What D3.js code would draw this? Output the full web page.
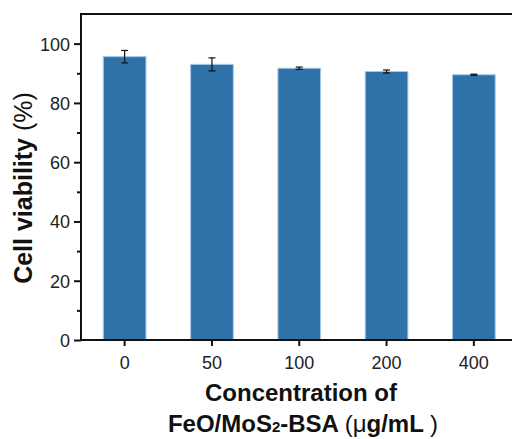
<!DOCTYPE html>
<html>
<head>
<meta charset="utf-8">
<script src="https://cdn.jsdelivr.net/npm/d3@7"></script>
<style>
  body { margin: 0; background: #fff; }
  text { font-family: "Liberation Sans", Arial, sans-serif; fill: #111; }
</style>
</head>
<body>
<svg id="canvas" width="512" height="439"></svg>
<script>
// data
var concentrations = ['0', '50', '100', '200', '400'];
var viability = [95.6, 93.0, 91.7, 90.6, 89.5];
var viability_err = [2.1, 2.2, 0.4, 0.5, 0.2];
var y_ticks = [0, 20, 40, 60, 80, 100];
var y_minor = [10, 30, 50, 70, 90];

var left = 81, top_ = 14, bottom = 340, right = 517.5;

var svg = d3.select('#canvas');

var xScale = d3.scaleBand().domain(concentrations).range([left, right]).paddingInner(0.5).paddingOuter(0.25);
var yScale = d3.scaleLinear().domain([0, 110]).range([bottom, top_]);

// ************************************************************************************************** //
// Bars

svg.append('g').selectAll('rect').data(concentrations).enter().append('rect')
  .attr('x', (d) => xScale(d) + 0.5)
  .attr('width', xScale.bandwidth() - 1)
  .attr('y', (d, i) => yScale(viability[i]))
  .attr('height', (d, i) => bottom - yScale(viability[i]))
  .style('fill', '#2f72aa')
  .style('stroke', '#a3c7e8')
  .style('stroke-width', 1);

// error bars
var eb = svg.append('g').style('stroke', '#111').style('stroke-width', 1.2);
concentrations.forEach((d, i) => {
  var cx = xScale(d) + xScale.bandwidth() / 2;
  var y1 = yScale(viability[i] + viability_err[i]);
  var y2 = yScale(viability[i] - viability_err[i]);
  eb.append('line').attr('x1', cx).attr('x2', cx).attr('y1', y1).attr('y2', y2);
  eb.append('line').attr('x1', cx - 3.5).attr('x2', cx + 3.5).attr('y1', y1).attr('y2', y1);
  eb.append('line').attr('x1', cx - 3.5).attr('x2', cx + 3.5).attr('y1', y2).attr('y2', y2);
});

// ************************************************************************************************** //
// Axes

var yAxis = svg.append('g').attr('transform', 'translate(' + left + ',0)')
  .call(d3.axisLeft(yScale).tickValues(y_ticks).tickSize(7).tickPadding(4));
svg.append('g').attr('transform', 'translate(' + left + ',0)')
  .call(d3.axisLeft(yScale).tickValues(y_minor).tickSize(4).tickFormat(''))
  .select('.domain').remove();

var xAxis = svg.append('g').attr('transform', 'translate(0,' + bottom + ')')
  .call(d3.axisBottom(xScale).tickSize(6).tickPadding(10).tickSizeOuter(0));

svg.selectAll('.tick line').style('stroke', '#111').style('stroke-width', 2);
svg.selectAll('.tick text').style('font-size', '18px').style('fill', '#222')
  .style('font-family', '"Liberation Sans", Arial, sans-serif');
yAxis.selectAll('.tick text').attr('dy', '0.36em');

xAxis.select('.domain').remove();
yAxis.select('.domain').remove();

// frame
svg.append('path')
  .attr('d', 'M' + right + ',' + top_ + 'H' + left + 'V' + (bottom + 1) + 'M' + (left - 1) + ',' + bottom + 'H' + right)
  .style('fill', 'none').style('stroke', '#111').style('stroke-width', 2);

// ************************************************************************************************** //
// Titles

var yt = svg.append('text')
  .attr('transform', 'translate(32,' + 188 + ') rotate(-90)')
  .attr('text-anchor', 'middle')
  .style('font-size', '25px').style('font-weight', 'bold');
yt.append('tspan').text('Cell viability ');
yt.append('tspan').style('font-weight', 'normal').text('(%)');

svg.append('text')
  .attr('x', 301).attr('y', 401)
  .attr('text-anchor', 'middle')
  .style('font-size', '24px').style('font-weight', 'bold')
  .text('Concentration of');

var xt = svg.append('text')
  .attr('x', 303).attr('y', 432)
  .attr('text-anchor', 'middle')
  .style('font-size', '24px').style('font-weight', 'bold');
xt.append('tspan').text('FeO/MoS');
xt.append('tspan').style('font-size', '15px').text('2');
xt.append('tspan').text('-BSA ');
xt.append('tspan').style('font-weight', 'normal').text('(\u03bc');
xt.append('tspan').text('g/mL ');
xt.append('tspan').style('font-weight', 'normal').text(')');
</script>
</body>
</html>
